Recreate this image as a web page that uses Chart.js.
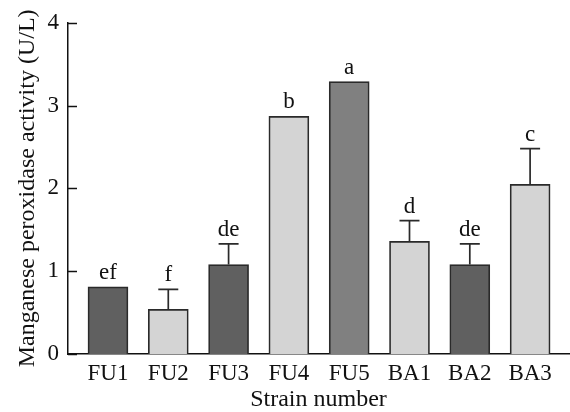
<!DOCTYPE html>
<html>
<head>
<meta charset="utf-8">
<script src="https://cdn.jsdelivr.net/npm/chart.js@4.4.0/dist/chart.umd.min.js"></script>
<style>
  html, body { margin: 0; padding: 0; background: #fff; }
  #wrap { width: 570px; height: 412px; }
</style>
</head>
<body>
<div id="wrap"><canvas id="myChart"></canvas></div>
<script>
// values
const strains = ['FU1', 'FU2', 'FU3', 'FU4', 'FU5', 'BA1', 'BA2', 'BA3'];
const activity = [0.81, 0.54, 1.08, 2.87, 3.29, 1.36, 1.08, 2.05];
const errors = [0, 0.24, 0.25, 0, 0, 0.25, 0.25, 0.43];
const letters = ['ef', 'f', 'de', 'b', 'a', 'd', 'de', 'c'];
const barColors = ['#606060', '#d4d4d4', '#606060', '#d4d4d4', '#808080', '#d4d4d4', '#606060', '#d4d4d4'];
const yTicks = [0, 1, 2, 3, 4];

const serif = '"Liberation Serif", "Times New Roman", serif';
const ink = '#111';

// error bars, significance letters and inward y ticks
const extras = {
  id: 'extras',
  afterDatasetsDraw(chart) {
    const c = chart.ctx;
    const x = chart.scales.x, y = chart.scales.y;
    c.save();
    c.strokeStyle = '#2a2a2a';
    c.lineWidth = 1.7;
    activity.forEach((v, i) => {
      const px = x.getPixelForValue(i);
      const top = y.getPixelForValue(v);
      let labelY = top;
      if (errors[i] > 0) {
        const capY = y.getPixelForValue(v + errors[i]);
        c.beginPath();
        c.moveTo(px, top);
        c.lineTo(px, capY);
        c.moveTo(px - 10, capY);
        c.lineTo(px + 10, capY);
        c.stroke();
        labelY = capY;
      }
      c.fillStyle = ink;
      c.font = '23px ' + serif;
      c.textAlign = 'center';
      c.textBaseline = 'alphabetic';
      c.fillText(letters[i], px, labelY - 8);
    });
    c.strokeStyle = ink;
    c.lineWidth = 1.5;
    yTicks.forEach(t => {
      const py = Math.round(y.getPixelForValue(t)) + 0.5;
      c.beginPath();
      c.moveTo(y.right, py);
      c.lineTo(y.right + 9, py);
      c.stroke();
    });
    c.restore();
  }
};

const ctx = document.getElementById('myChart');
new Chart(ctx, {
  type: 'bar',
  data: {
    datasets: [{
      data: activity.map((v, i) => ({ x: i, y: v })),
      backgroundColor: barColors,
      borderColor: '#2a2a2a',
      borderWidth: 1.7,
      barThickness: 40
    }]
  },
  options: {
    responsive: true,
    maintainAspectRatio: false,
    animation: false,
    layout: { padding: { top: 20, right: 1, left: 0, bottom: 0 } },
    plugins: { legend: { display: false }, tooltip: { enabled: false } },
    scales: {
      x: {
        type: 'linear',
        offset: false,
        min: -0.663,
        max: 7.645,
        grid: { display: false, drawTicks: false },
        border: { display: true, color: ink, width: 1.5 },
        afterBuildTicks: s => { s.ticks = strains.map((_, i) => ({ value: i })); },
        ticks: {
          autoSkip: false,
          maxRotation: 0,
          padding: 6,
          color: ink,
          font: { family: serif, size: 23 },
          callback: v => strains[v] || ''
        },
        title: {
          display: true,
          text: 'Strain number',
          color: ink,
          font: { family: serif, size: 24, lineHeight: 1 },
          padding: 0
        },
        afterFit: s => { s.height = 58; }
      },
      y: {
        min: 0,
        max: 4,
        grid: { display: false, drawTicks: false },
        border: { display: true, color: ink, width: 1.5 },
        ticks: {
          stepSize: 1,
          padding: 9,
          color: ink,
          font: { family: serif, size: 23 }
        },
        title: {
          display: true,
          text: 'Manganese peroxidase activity (U/L)',
          color: ink,
          font: { family: serif, size: 24 },
          padding: { top: 13, bottom: 0 }
        },
        afterFit: s => { s.width = 68; }
      }
    }
  },
  plugins: [extras]
});
</script>
</body>
</html>
